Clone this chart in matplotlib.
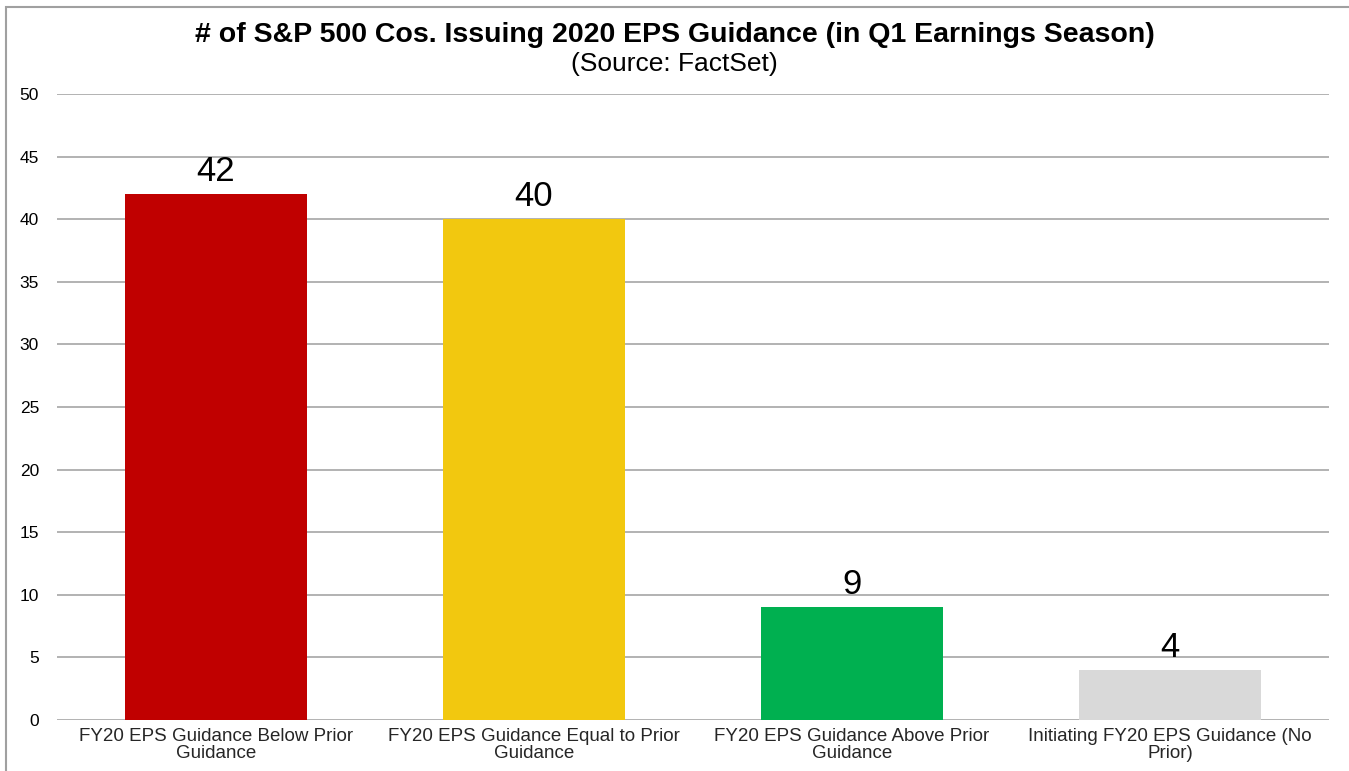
import numpy as np
import matplotlib.pyplot as plt
from matplotlib.patches import Rectangle

plt.rcParams['font.family'] = ['Liberation Sans', 'DejaVu Sans']

categories = ['FY20 EPS Guidance Below Prior\nGuidance',
              'FY20 EPS Guidance Equal to Prior\nGuidance',
              'FY20 EPS Guidance Above Prior\nGuidance',
              'Initiating FY20 EPS Guidance (No\nPrior)']
counts = [42, 40, 9, 4]
colors = ['#C00000', '#F2C80F', '#00B050', '#D9D9D9']

fig = plt.figure(figsize=(13.49, 7.71), dpi=100)
ax = fig.add_axes([0.0423, 0.0661, 0.9429, 0.8120])

x = np.arange(len(categories))
bars = ax.bar(x, counts, width=0.57, color=colors, zorder=3)
for b, v in zip(bars, counts):
    ax.text(b.get_x() + b.get_width() / 2, v + 1.05, str(v),
            ha='center', va='baseline', fontsize=25, color='black')

ax.set_xlim(-0.5, 3.5)
ax.set_ylim(0, 50)
ax.set_yticks(range(0, 51, 5))
ax.yaxis.grid(True, color='#A6A6A6', linewidth=1.2, zorder=0)
ax.set_xticks(x)
ax.set_xticklabels(categories, fontsize=13.5, color='#262626', linespacing=0.96)
ax.tick_params(axis='both', length=0)
ax.tick_params(axis='y', labelsize=12.5, pad=13)
ax.tick_params(axis='x', pad=6)
for s in ax.spines.values():
    s.set_visible(False)

fig.text(0.5, 0.955, '# of S&P 500 Cos. Issuing 2020 EPS Guidance (in Q1 Earnings Season)',
         ha='center', va='center', fontsize=20.5, fontweight='bold')
fig.text(0.5, 0.917, '(Source: FactSet)', ha='center', va='center', fontsize=19)

fig.patches.append(Rectangle((0.0045, -0.01), 1.1, 1.001,
                             transform=fig.transFigure, fill=False,
                             edgecolor='#A0A0A0', linewidth=1.5))

fig.savefig('out.png', dpi=100)
